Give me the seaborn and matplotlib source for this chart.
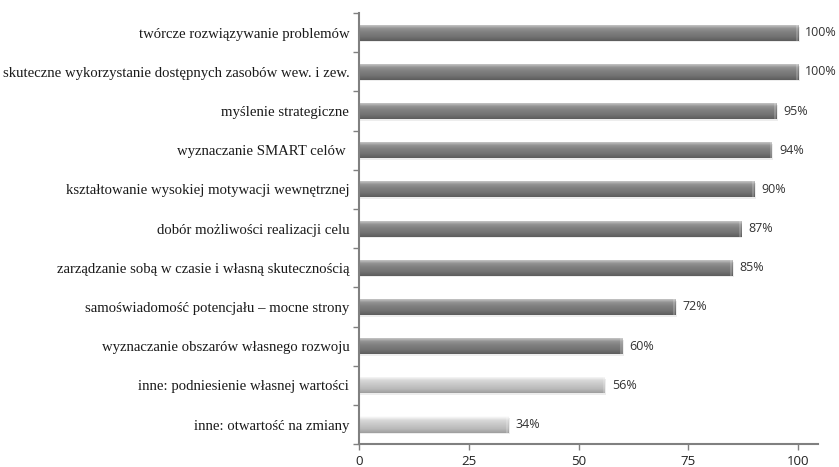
import numpy as np
import pandas as pd
import matplotlib
matplotlib.use('Agg')
import matplotlib.pyplot as plt
from matplotlib.colors import LinearSegmentedColormap
import seaborn as sns

# data
labels = [
    'twórcze rozwiązywanie problemów',
    'skuteczne wykorzystanie dostępnych zasobów wew. i zew.',
    'myślenie strategiczne',
    'wyznaczanie SMART celów ',
    'kształtowanie wysokiej motywacji wewnętrznej',
    'dobór możliwości realizacji celu',
    'zarządzanie sobą w czasie i własną skutecznością',
    'samoświadomość potencjału – mocne strony',
    'wyznaczanie obszarów własnego rozwoju',
    'inne: podniesienie własnej wartości',
    'inne: otwartość na zmiany',
]
values = [100, 100, 95, 94, 90, 87, 85, 72, 60, 56, 34]
groups = ['main'] * 9 + ['inne'] * 2

df = pd.DataFrame({'label': labels, 'value': values, 'group': groups})

# gradients imitating the Excel cylinder-ish bars
dark_cmap = LinearSegmentedColormap.from_list(
    'dark', ['#d4d4d4', '#929292', '#7e7e7e', '#727272', '#5c5c5c'])
light_cmap = LinearSegmentedColormap.from_list(
    'light', ['#ffffff', '#d8d8d8', '#c8c8c8', '#bababa', '#9e9e9e'])

sns.set_style('white')
fig = plt.figure(figsize=(8.39, 4.67), dpi=100)
ax = fig.add_axes([0.428, 0.049, 0.547, 0.923])

sns.barplot(data=df, x='value', y='label', hue='group',
            palette={'main': '#747474', 'inne': '#c2c2c2'},
            orient='h', width=0.41, dodge=False, legend=False, ax=ax)

grad = np.linspace(0, 1, 64).reshape(-1, 1)
bars = sorted(ax.patches, key=lambda p: p.get_y())
for p, g in zip(bars, groups):
    x0, y0 = p.get_x(), p.get_y()
    w, h = p.get_width(), p.get_height()
    cmap = dark_cmap if g == 'main' else light_cmap
    p.set_edgecolor('none')
    # soft shadow below the bar
    ax.add_patch(plt.Rectangle((x0, y0 + h * 0.12), w + 0.3, h * 0.98,
                               color='#000000', alpha=0.07, lw=0, zorder=1))
    im = ax.imshow(grad, cmap=cmap, aspect='auto',
                   extent=(x0, x0 + w, y0 + h, y0), zorder=2)
    im.set_clip_path(p)
    # bevelled right end
    ax.add_patch(plt.Rectangle((x0 + w - 0.5, y0), 0.5, h,
                               color='#ffffff', alpha=0.2, lw=0, zorder=3))
    ax.text(x0 + w + 1.6, y0 + h / 2, f'{int(w)}%', va='center', ha='left',
            fontsize=9, color='#333333', family='Open Sans')

ax.set_xlim(0, 104.5)
ax.set_ylim(len(labels) - 0.5, -0.5)
ax.set_xticks([0, 25, 50, 75, 100])
ax.set_yticks(np.arange(len(labels) + 1) - 0.5, minor=True)
ax.tick_params(axis='y', which='major', left=False, length=0, pad=7)
ax.tick_params(axis='y', which='minor', left=True, length=4,
               color='#808080', width=1)
ax.tick_params(axis='x', bottom=True, length=4, color='#808080', width=1, pad=4)
ax.set_xlabel('')
ax.set_ylabel('')

for lbl in ax.get_yticklabels():
    lbl.set_family('Liberation Serif')
    lbl.set_fontsize(10.6)
    lbl.set_color('#1a1a1a')
for lbl in ax.get_xticklabels():
    lbl.set_family('Open Sans')
    lbl.set_fontsize(9.5)
    lbl.set_color('#222222')

sns.despine(ax=ax, top=True, right=True)
for side in ['left', 'bottom']:
    ax.spines[side].set_color('#808080')
    ax.spines[side].set_linewidth(1.5)

fig.savefig('out.png', dpi=100)
